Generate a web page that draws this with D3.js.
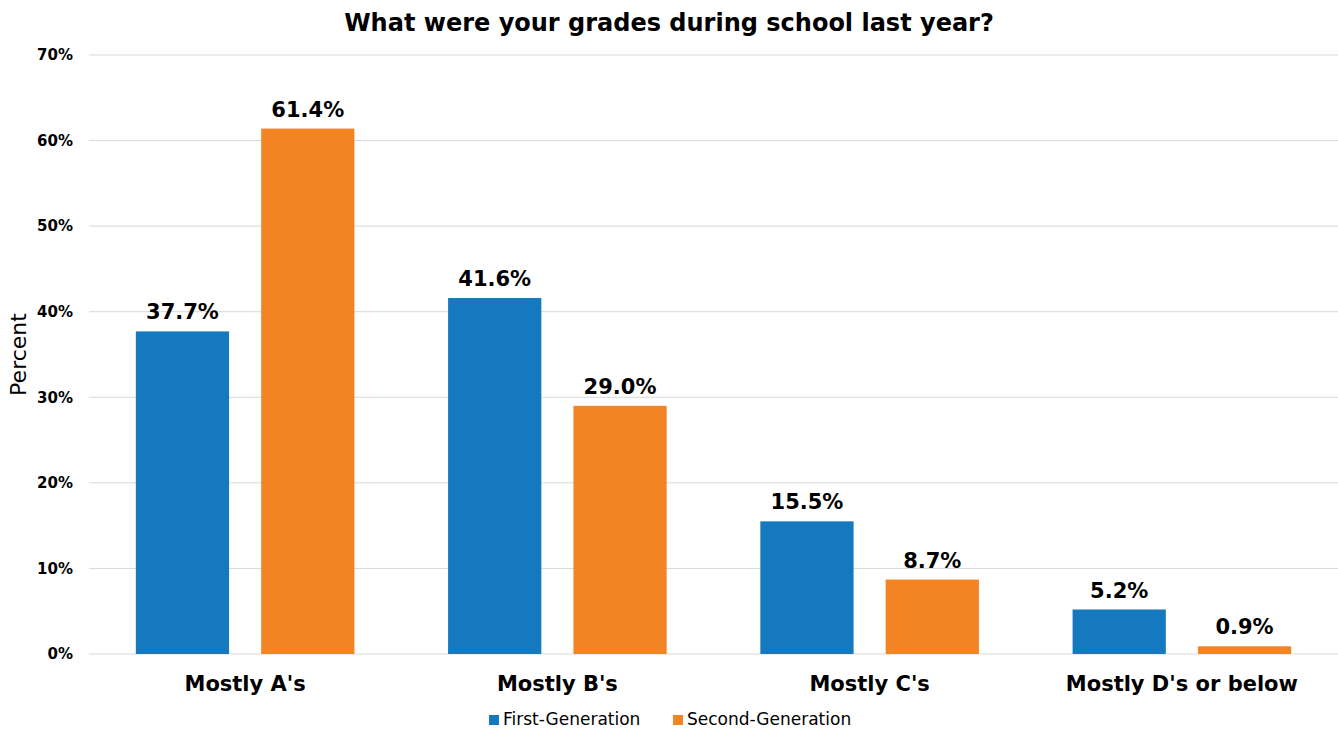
<!DOCTYPE html>
<html>
<head>
<meta charset="utf-8">
<style>
  body { margin: 0; background: #fff; }
  svg text { font-family: "DejaVu Sans", "Open Sans", sans-serif; fill: #000; }
</style>
</head>
<body>
<div id="chart"></div>
<script src="https://cdn.jsdelivr.net/npm/d3@7"></script>
<script>
// data
var categories = ["Mostly A's", "Mostly B's", "Mostly C's", "Mostly D's or below"];
var seriesNames = ["First-Generation", "Second-Generation"];
var firstGen = [37.7, 41.6, 15.5, 5.2];
var secondGen = [61.4, 29.0, 8.7, 0.9];
var yTicks = [0, 10, 20, 30, 40, 50, 60, 70];
var colors = ["#1479bf", "#f38423"];

var width = 1338, height = 732;
var margin = { top: 55, right: 0, bottom: 78, left: 89 };

var svg = d3.select("#chart").append("svg")
    .attr("width", width)
    .attr("height", height);

var x0 = d3.scaleBand()
    .domain(categories)
    .range([margin.left, width - margin.right])
    .padding(0);

var x1 = d3.scaleBand()
    .domain(seriesNames)
    .range([x0.bandwidth() * 0.15, x0.bandwidth() * 0.85])
    .paddingInner(0.256);

var y = d3.scaleLinear()
    .domain([0, 70])
    .range([height - margin.bottom, margin.top]);

// gridlines
svg.append("g")
    .selectAll("line")
    .data(yTicks)
    .enter().append("line")
    .attr("x1", margin.left)
    .attr("x2", width - margin.right)
    .attr("y1", function(d) { return y(d); })
    .attr("y2", function(d) { return y(d); })
    .attr("stroke", "#d9d9d9")
    .attr("stroke-width", 1);

// y axis labels
var yAxis = d3.axisLeft(y)
    .tickValues(yTicks)
    .tickSize(0)
    .tickPadding(16)
    .tickFormat(function(d) { return d + "%"; });

svg.append("g")
    .attr("transform", "translate(" + margin.left + ",0)")
    .call(yAxis)
    .call(function(g) { g.select(".domain").remove(); })
    .selectAll("text")
    .style("font-family", "DejaVu Sans, sans-serif")
    .style("font-size", "15px")
    .style("font-weight", "bold")
    .attr("fill", "#000");

// x axis labels
var xAxis = d3.axisBottom(x0).tickSize(0).tickPadding(22);
svg.append("g")
    .attr("transform", "translate(0," + y(0) + ")")
    .call(xAxis)
    .call(function(g) { g.select(".domain").remove(); })
    .selectAll("text")
    .style("font-family", "DejaVu Sans, sans-serif")
    .style("font-size", "21px")
    .style("font-weight", "bold")
    .attr("fill", "#000");

// bars
var rows = categories.map(function(c, i) {
    return { cat: c, values: [
        { key: seriesNames[0], value: firstGen[i] },
        { key: seriesNames[1], value: secondGen[i] }
    ]};
});

var groups = svg.append("g")
    .selectAll("g")
    .data(rows)
    .enter().append("g")
    .attr("transform", function(d) { return "translate(" + x0(d.cat) + ",0)"; });

groups.selectAll("rect")
    .data(function(d) { return d.values; })
    .enter().append("rect")
    .attr("x", function(d) { return x1(d.key); })
    .attr("y", function(d) { return y(d.value); })
    .attr("width", x1.bandwidth())
    .attr("height", function(d) { return y(0) - y(d.value); })
    .attr("fill", function(d, i) { return colors[i]; });

groups.selectAll("text.val")
    .data(function(d) { return d.values; })
    .enter().append("text")
    .attr("class", "val")
    .attr("x", function(d) { return x1(d.key) + x1.bandwidth() / 2; })
    .attr("y", function(d) { return y(d.value) - 12; })
    .attr("text-anchor", "middle")
    .style("font-size", "21px")
    .style("font-weight", "bold")
    .text(function(d) { return d.value.toFixed(1) + "%"; });

// title
svg.append("text")
    .attr("x", 669)
    .attr("y", 31)
    .attr("text-anchor", "middle")
    .style("font-size", "24px")
    .style("font-weight", "bold")
    .text("What were your grades during school last year?");

// y title
svg.append("text")
    .attr("transform", "translate(26," + ((margin.top + height - margin.bottom) / 2) + ") rotate(-90)")
    .attr("text-anchor", "middle")
    .style("font-size", "22px")
    .text("Percent");

// legend
var legend = svg.append("g")
    .attr("transform", "translate(489,715)");
var legendX = [0, 184];
var item = legend.selectAll("g")
    .data(seriesNames)
    .enter().append("g")
    .attr("transform", function(d, i) { return "translate(" + legendX[i] + ",0)"; });
item.append("rect")
    .attr("width", 10)
    .attr("height", 10)
    .attr("fill", function(d, i) { return colors[i]; });
item.append("text")
    .attr("x", 14)
    .attr("y", 10)
    .style("font-size", "17px")
    .text(function(d) { return d; });
</script>
</body>
</html>
